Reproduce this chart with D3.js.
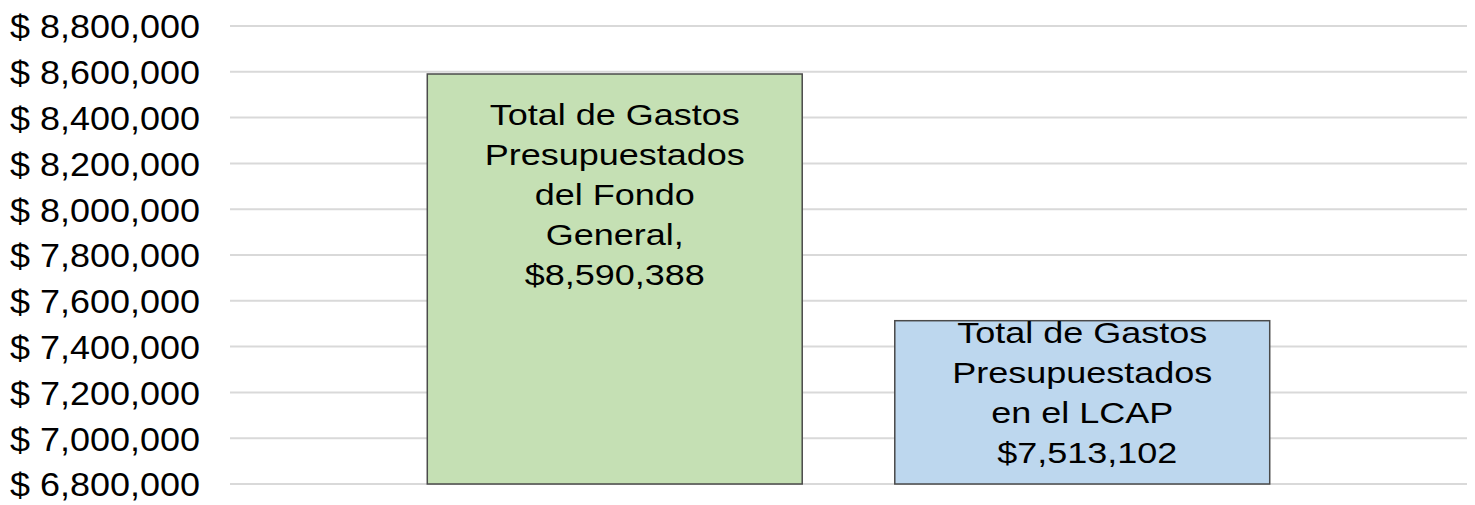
<!DOCTYPE html>
<html>
<head>
<meta charset="utf-8">
<script src="https://cdn.jsdelivr.net/npm/d3@7"></script>
<style>
  body { margin: 0; background: #ffffff; }
  svg { display: block; font-family: "Liberation Sans", Arial, sans-serif; }
</style>
</head>
<body>
<div id="chart"></div>
<script>
// data
const categories = ["Fondo General", "LCAP"];
const values = [8590388, 7513102];
const labelLines = [
    ["Total de Gastos", "Presupuestados", "del Fondo", "General,", "$8,590,388"],
    ["Total de Gastos", "Presupuestados", "en el LCAP", " $7,513,102"]
];
const barColors = ["#c5e0b4", "#bdd7ee"];
const tickValues = [6800000, 7000000, 7200000, 7400000, 7600000, 7800000,
    8000000, 8200000, 8400000, 8600000, 8800000];

const width = 1475, height = 505;
const plot = {left: 230, right: 1467, top: 26, bottom: 484};

const svg = d3.select("#chart").append("svg")
    .attr("width", width)
    .attr("height", height);

const yScale = d3.scaleLinear()
    .domain([6800000, 8800000])
    .range([plot.bottom, plot.top]);

const xScale = d3.scaleBand()
    .domain(categories)
    .range([381, 1316])
    .paddingInner(0.198)
    .paddingOuter(0.099);

// gridlines
svg.append("g")
    .attr("class", "grid")
    .selectAll("line")
    .data(tickValues)
    .join("line")
    .attr("x1", plot.left)
    .attr("x2", plot.right)
    .attr("y1", d => yScale(d))
    .attr("y2", d => yScale(d))
    .attr("stroke", "#d9d9d9")
    .attr("stroke-width", 2);

// y axis, labels like "$ 8,800,000"
const yAxis = d3.axisLeft(yScale)
    .tickValues(tickValues)
    .tickSize(0)
    .tickPadding(0)
    .tickFormat(d => "$ " + d3.format(",")(d));

svg.append("g")
    .attr("class", "y-axis")
    .attr("transform", "translate(200,0)")
    .call(yAxis)
    .call(g => g.select(".domain").remove())
    .selectAll("text")
    .attr("font-size", 33)
    .attr("font-family", "Liberation Sans, Arial, sans-serif")
    .attr("fill", "#000")
    .attr("dy", "0.36em")
    .attr("transform", "scale(1.09,1)");

// bars
svg.append("g")
    .selectAll("rect")
    .data(values)
    .join("rect")
    .attr("x", (d, i) => xScale(categories[i]))
    .attr("y", d => yScale(d))
    .attr("width", xScale.bandwidth())
    .attr("height", d => yScale(6800000) - yScale(d))
    .attr("fill", (d, i) => barColors[i])
    .attr("stroke", "#4a4a4a")
    .attr("stroke-width", 1.5);

// data labels inside the bars
const lineH = 40;
values.forEach((v, i) => {
    const lines = labelLines[i];
    const top = yScale(v);
    const mid = (top + yScale(6800000)) / 2;
    const centre = Math.min(top + 120, mid - 10);
    const firstBase = centre - (lines.length - 1) * lineH / 2 + 11;
    const cx = xScale(categories[i]) + xScale.bandwidth() / 2;

    const g = svg.append("g").attr("class", "label");
    lines.forEach((t, j) => {
        g.append("text")
            .attr("transform", `translate(${cx},${firstBase + j * lineH}) scale(1.2,1)`)
            .attr("text-anchor", "middle")
            .attr("font-size", 30)
            .attr("fill", "#000")
            .style("white-space", "pre")
            .text(t);
    });
});
</script>
</body>
</html>
